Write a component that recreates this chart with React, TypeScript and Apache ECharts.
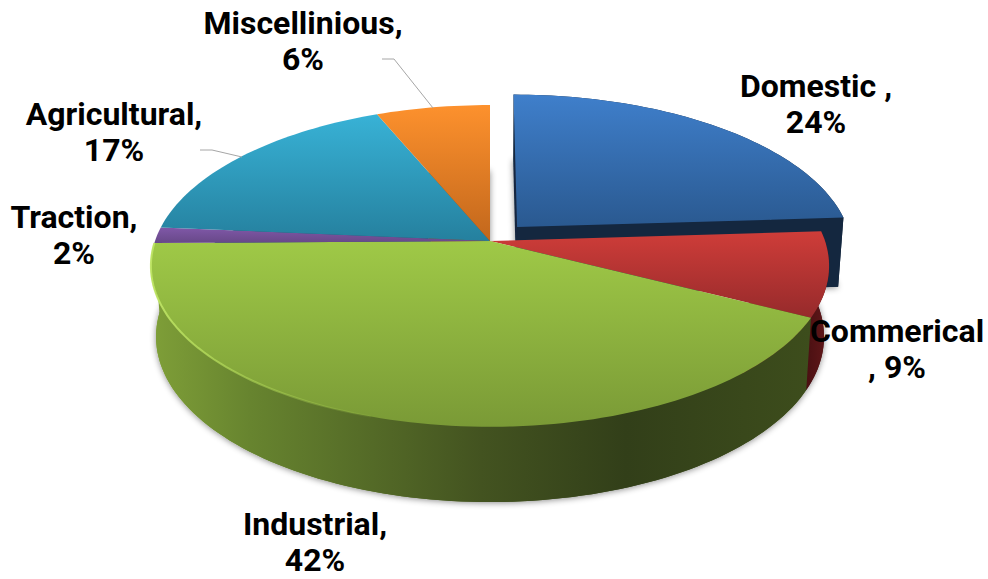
import React, { useEffect, useRef } from "react";
import * as echarts from "echarts";

const NAMES = ["Domestic", "Commerical", "Industrial", "Traction", "Agricultural", "Miscellinious"];
// Slice sizes; the printed labels round them
const VALUES = [24, 8.5, 42.3, 1.6, 17.3, 6.3];
const LABEL_LINES = [
  ["Domestic ,", "24%"],
  ["Commerical", ", 9%"],
  ["Industrial,", "42%"],
  ["Traction,", "2%"],
  ["Agricultural,", "17%"],
  ["Miscellinious,", "6%"],
];

// Layout of the labels and their leader lines (not data)
const LABEL_POS = [
  [816, 104],
  [897, 349],
  [315, 542],
  [74, 235],
  [114, 132],
  [303, 41],
];
const LEADERS: Record<number, number[][]> = {
  4: [[200, 150], [212, 150], [242, 157]],
  5: [[382, 59], [394, 59], [433, 108]],
};

// Perspective projection of the disc
const CX = 490, CY = 241, A = 335, Q = 157, P = 0.155;
const EXPLODE: Record<number, [number, number]> = { 0: [0.082, 0.09] };
const FONT = 'Roboto, sans-serif';

const lg = (x: number, y: number, x2: number, y2: number, stops: [number, string][]) =>
  new echarts.graphic.LinearGradient(x, y, x2, y2, stops.map(([offset, color]) => ({ offset, color })));
const vert = (a: string, b: string) => lg(0, 0, 0, 1, [[0, a], [1, b]]);

const TOP_FILL = [
  vert("#3f7fcb", "#2a5990"),
  vert("#cf3d39", "#962a2b"),
  vert("#9fc947", "#7a9a36"),
  vert("#8058a8", "#674888"),
  vert("#38b2d6", "#25809e"),
  vert("#fd912d", "#c2671c"),
];
const WALL_FILL = [
  "#14273f",
  lg(0, 0, 1, 0, [[0, "#4a1012"], [0.8, "#5e1618"], [1, "#3c0e10"]]),
  lg(0, 0, 1, 0, [
    [0, "#7f9f38"],
    [0.15, "#67842f"],
    [0.5, "#435320"],
    [0.72, "#323f19"],
    [1, "#3d4d1c"],
  ]),
  "#4a3366",
  "#1a5a70",
  "#8a4a14",
];
const FRONT_FACING = [true, true, true, false, false, false];

const TOTAL = VALUES.reduce((a, b) => a + b, 0);
function sliceAngles(i: number): [number, number] {
  let s = 0;
  for (let k = 0; k < i; k++) s += VALUES[k];
  return [(s / TOTAL) * Math.PI * 2, ((s + VALUES[i]) / TOTAL) * Math.PI * 2];
}

function project(mx: number, my: number, i: number, bottom: boolean): number[] {
  const [ox, oy] = EXPLODE[i] || [0, 0];
  const x = mx + ox, y = my + oy;
  const den = 1 + P * y;
  const u = (A * x) / den, v = (Q * y) / den;
  if (!bottom) return [CX + u, CY - v];
  return [CX + u * 0.985, CY - v + (70 - 5.2 * y)];
}

function arc(i: number, bottom: boolean, from?: number, to?: number): number[][] {
  const [a0, a1] = sliceAngles(i);
  const s = from ?? a0, e = to ?? a1;
  const n = Math.max(4, Math.ceil(((e - s) / (Math.PI * 2)) * 240));
  const pts: number[][] = [];
  for (let k = 0; k <= n; k++) {
    const t = s + ((e - s) * k) / n;
    pts.push(project(Math.sin(t), Math.cos(t), i, bottom));
  }
  return pts;
}

function renderBase(params: any, api: any) {
  const i = params.dataIndex;
  api.value(0);
  const apexB = project(0, 0, i, true);
  const bot = arc(i, true);
  return {
    type: "polygon",
    shape: { points: [apexB, ...bot] },
    style: { fill: WALL_FILL[i], shadowBlur: 6, shadowColor: "rgba(0,0,0,0.45)", shadowOffsetY: 1 },
  };
}

function renderWall(params: any, api: any) {
  const i = params.dataIndex;
  api.value(0);
  const children: any[] = [];
  if (FRONT_FACING[i]) {
    const top = arc(i, false);
    const bot = arc(i, true);
    children.push({
      type: "polygon",
      shape: { points: [...top, ...bot.slice().reverse()] },
      style: { fill: WALL_FILL[i] },
    });
  }
  const [, a1] = sliceAngles(i);
  if (EXPLODE[i]) {
    const tip = [Math.sin(a1), Math.cos(a1)];
    children.push({
      type: "polygon",
      shape: {
        points: [
          project(0, 0, i, false),
          project(tip[0], tip[1], i, false),
          project(tip[0], tip[1], i, true),
          project(0, 0, i, true),
        ],
      },
      style: { fill: WALL_FILL[i] },
    });
  }
  return { type: "group", children };
}

function renderTop(params: any, api: any) {
  const i = params.dataIndex;
  api.value(0);
  const pts = [project(0, 0, i, false), ...arc(i, false)];
  const children: any[] = [
    { type: "polygon", shape: { points: pts }, style: { fill: TOP_FILL[i] } },
  ];
  if (NAMES[i] === "Industrial") {
    const [, a1] = sliceAngles(i);
    children.push({
      type: "polyline",
      shape: { points: arc(i, false, a1 - 1.25, a1).slice().reverse() },
      style: {
        fill: "none",
        lineWidth: 2,
        stroke: lg(0, 0, 1, 0, [[0, "rgba(190,228,100,0.95)"], [1, "rgba(170,210,80,0.1)"]]),
      },
    });
  }
  return { type: "group", children };
}

function renderLabel(params: any) {
  const i = params.dataIndex;
  const children: any[] = [
    {
      type: "text",
      x: LABEL_POS[i][0],
      y: LABEL_POS[i][1],
      style: {
        text: LABEL_LINES[i].join("\n"),
        font: `bold 32px ${FONT}`,
        lineHeight: 36,
        fill: "#000",
        align: "center",
        verticalAlign: "middle",
      },
    },
  ];
  if (LEADERS[i]) {
    children.push({
      type: "polyline",
      shape: { points: LEADERS[i] },
      style: { fill: "none", stroke: "#a6a6a6", lineWidth: 1 },
    });
  }
  return { type: "group", children };
}

export default function App() {
  const ref = useRef<HTMLDivElement>(null);
  useEffect(() => {
    document.body.style.margin = "0";
    const chart = echarts.init(ref.current!, undefined, { renderer: "svg" });
    const data = VALUES.map((value, i) => ({ name: NAMES[i], value }));
    chart.setOption({
      animation: false,
      backgroundColor: "#ffffff",
      series: [
        { type: "custom", coordinateSystem: "none", renderItem: renderBase, data, z: 1, silent: true },
        { type: "custom", coordinateSystem: "none", renderItem: renderWall, data, z: 2, silent: true },
        { type: "custom", coordinateSystem: "none", renderItem: renderTop, data, z: 3, silent: true },
        { type: "custom", coordinateSystem: "none", renderItem: renderLabel, data, z: 4, silent: true },
      ],
    });
    return () => chart.dispose();
  }, []);
  return <div ref={ref} style={{ width: 988, height: 579, overflow: "hidden" }} />;
}
